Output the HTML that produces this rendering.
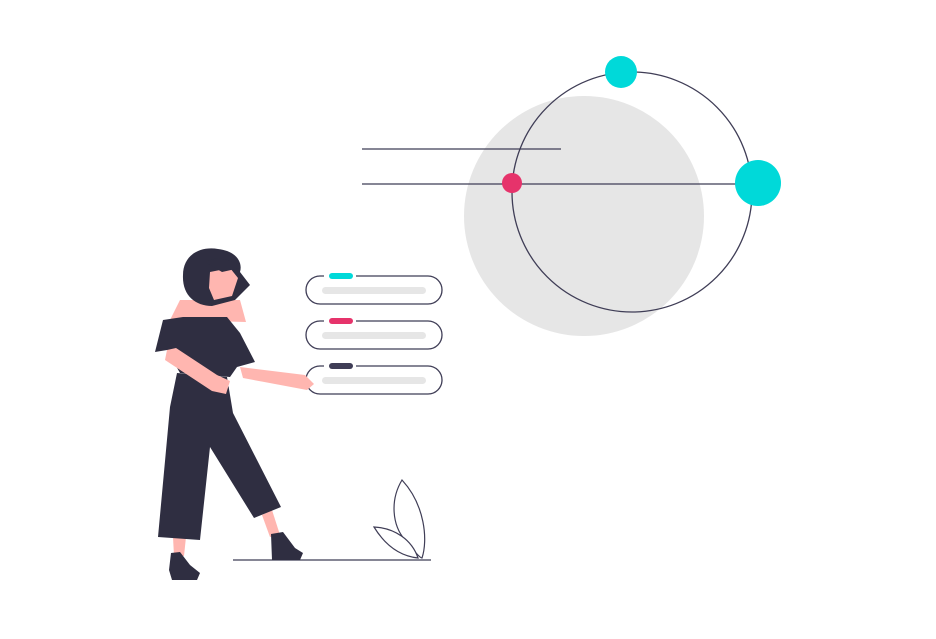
<!DOCTYPE html>
<html><head><style>html,body{margin:0;background:#fff}svg{display:block}</style></head><body>
<svg width="936" height="639" viewBox="0 0 936 639" xmlns="http://www.w3.org/2000/svg">
<circle cx="584" cy="216" r="120" fill="#e6e6e6"/>
<circle cx="632" cy="192" r="120" fill="none" stroke="#3f3d56" stroke-width="1.3"/>
<line x1="362" y1="149" x2="561" y2="149" stroke="#3f3d56" stroke-width="1.3"/>
<line x1="362" y1="184" x2="736" y2="184" stroke="#3f3d56" stroke-width="1.3"/>
<circle cx="512" cy="183" r="10" fill="#e6336b"/>
<circle cx="621" cy="72" r="16" fill="#00d9d9"/>
<circle cx="758" cy="183" r="23" fill="#00d9d9"/>
<g stroke="#3f3d56" stroke-width="1.3" fill="#fff">
<rect x="306" y="276" width="136" height="28" rx="14"/>
<rect x="306" y="321" width="136" height="28" rx="14"/>
<rect x="306" y="366" width="136" height="28" rx="14"/>
</g>
<g fill="#e6e6e6"><rect x="322" y="287" width="104" height="7" rx="3.5"/><rect x="322" y="332" width="104" height="7" rx="3.5"/><rect x="322" y="377" width="104" height="7" rx="3.5"/></g>
<rect x="324" y="271" width="32" height="10" fill="#fff"/><rect x="324" y="316" width="32" height="10" fill="#fff"/><rect x="324" y="361" width="32" height="10" fill="#fff"/>
<rect x="329" y="273" width="24" height="6" rx="3" fill="#00d9d9"/>
<rect x="329" y="318" width="24" height="6" rx="3" fill="#e6336b"/>
<rect x="329" y="363" width="24" height="6" rx="3" fill="#3f3d56"/>
<line x1="233" y1="560" x2="431" y2="560" stroke="#3f3d56" stroke-width="1.3"/>
<g fill="#fff" stroke="#3f3d56" stroke-width="1.2">
<path d="M402 480 C390 500 392 525 405 540 C415 552 420 558 422 558 C428 540 425 505 402 480 Z"/>
<path d="M374 527 C385 545 400 556 418 558 C412 540 395 528 374 527 Z"/>
</g>
<!-- woman -->
<path d="M170 320 L180 300 L240 300 L246 322 Z" fill="#ffb6b0"/>
<path d="M240 367 L305 375 L314 384 L307 390 L243 378 Z" fill="#ffb6b0"/>
<path d="M173 537 L186 537 L184 556 L174 556 Z" fill="#ffb6b0"/>
<path d="M262 515 L272 510 L280 535 L270 537 Z" fill="#ffb6b0"/>
<path d="M155 352 L163 320 L183 317 L227 317 L240 333 L255 362 L237 367 L230 377 L180 373 L167 350 Z" fill="#2f2e41"/>
<path d="M177 373 L227 377 L233 413 L281 507 L254 518 L210 447 L200 540 L158 537 L170 407 Z" fill="#2f2e41"/>
<path d="M167 350 L176 348 L217 375 L230 381 L226 394 L212 391 L165 360 Z" fill="#ffb6b0"/>
<path d="M171 553 L180 552 L190 565 L200 573 L197 580 L172 580 L169 570 Z" fill="#2f2e41"/>
<path d="M271 534 L283 532 L295 548 L303 553 L300 560 L272 560 Z" fill="#2f2e41"/>
<path d="M183 275 C183 255 200 246 218 249 C236 251 243 262 240 272 L250 285 L235 300 L212 306 C195 306 182 295 183 275 Z" fill="#2f2e41"/>
<path d="M210 272 L230 268 L238 278 L232 296 L214 300 L209 288 Z" fill="#ffb6b0"/>
<path d="M205 262 C215 256 232 258 240 268 L222 272 Z" fill="#2f2e41"/>
</svg>
</body></html>
